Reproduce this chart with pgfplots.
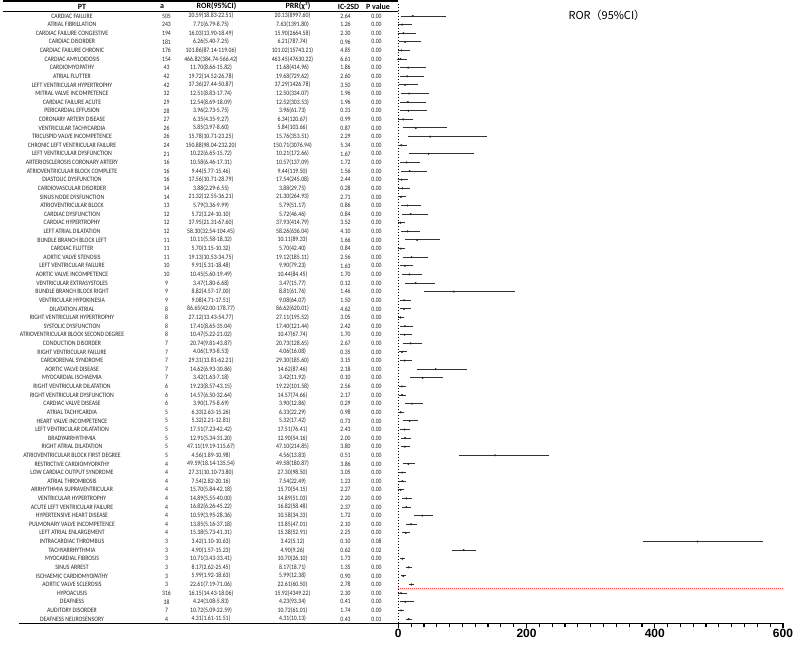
\documentclass[border=0pt]{standalone}
\usepackage{fontspec}
\setmainfont{Carlito}
\newfontfamily\cjkfont{Noto Sans CJK SC}
\newfontfamily\arialfont{Liberation Sans}
\usepackage{graphicx}
\usepackage{pgfplots}
\usepackage{pgfplotstable}
\pgfplotsset{compat=1.18}
\newcommand\rowfont{\fontsize{6.7bp}{7bp}\selectfont}
\newcommand\sq[1]{\scalebox{0.86}[1]{#1}}
\newcommand\hdfont{\bfseries\fontsize{8bp}{9bp}\selectfont}

\pgfplotstableread[col sep=comma]{
row,pt,a,ror,lo,hi,prr,chi,ic,p,prow
1,CARDIAC FAILURE,505,20.59,18.83,22.51,20.13,8997.60,2.64,0.00,67
2,ATRIAL FIBRILLATION,243,7.71,6.79,8.75,7.63,1391.80,1.26,0.00,66
3,CARDIAC FAILURE CONGESTIVE,194,16.03,13.90,18.49,15.90,2664.58,2.30,0.00,65
4,CARDIAC DISORDER,181,6.26,5.40,7.25,6.21,787.74,0.96,0.00,64
5,CARDIAC FAILURE CHRONIC,176,101.86,87.14,119.06,101.02,15743.21,4.85,0.00,63
6,CARDIAC AMYLOIDOSIS,154,466.82,384.74,566.42,463.45,47630.22,6.61,0.00,62
7,CARDIOMYOPATHY,43,11.70,8.66,15.82,11.68,414.96,1.86,0.00,61
8,ATRIAL FLUTTER,42,19.72,14.52,26.78,19.68,729.62,2.60,0.00,60
9,LEFT VENTRICULAR HYPERTROPHY,42,37.36,27.44,50.87,37.29,1426.78,3.50,0.00,59
10,MITRAL VALVE INCOMPETENCE,32,12.51,8.83,17.74,12.50,334.07,1.96,0.00,58
11,CARDIAC FAILURE ACUTE,29,12.54,8.69,18.09,12.52,303.53,1.96,0.00,57
12,PERICARDIAL EFFUSION,28,3.96,2.73,5.75,3.96,61.73,0.31,0.00,56
13,CORONARY ARTERY DISEASE,27,6.35,4.35,9.27,6.34,120.67,0.99,0.00,55
14,VENTRICULAR TACHYCARDIA,26,5.85,3.97,8.60,5.84,103.66,0.87,0.00,54
15,TRICUSPID VALVE INCOMPETENCE,26,15.78,10.71,23.25,15.76,353.51,2.29,0.00,53
16,CHRONIC LEFT VENTRICULAR FAILURE,24,150.88,98.04,232.20,150.71,3076.94,5.34,0.00,52
17,LEFT VENTRICULAR DYSFUNCTION,21,10.22,6.65,15.72,10.21,172.66,1.67,0.00,51
18,ARTERIOSCLEROSIS CORONARY ARTERY,16,10.58,6.46,17.31,10.57,137.09,1.72,0.00,50
19,ATRIOVENTRICULAR BLOCK COMPLETE,16,9.44,5.77,15.46,9.44,119.50,1.56,0.00,49
20,DIASTOLIC DYSFUNCTION,16,17.56,10.71,28.79,17.54,245.08,2.44,0.00,48
21,CARDIOVASCULAR DISORDER,14,3.88,2.29,6.55,3.88,29.75,0.28,0.00,47
22,SINUS NODE DYSFUNCTION,14,21.32,12.55,36.21,21.30,264.93,2.71,0.00,46
23,ATRIOVENTRICULAR BLOCK,13,5.79,3.36,9.99,5.79,51.17,0.86,0.00,45
24,CARDIAC DYSFUNCTION,12,5.72,3.24,10.10,5.72,46.46,0.84,0.00,44
25,CARDIAC HYPERTROPHY,12,37.95,21.31,67.60,37.93,414.79,3.52,0.00,43
26,LEFT ATRIAL DILATATION,12,58.30,32.54,104.45,58.26,636.04,4.10,0.00,42
27,BUNDLE BRANCH BLOCK LEFT,11,10.11,5.58,18.32,10.11,89.33,1.66,0.00,41
28,CARDIAC FLUTTER,11,5.70,3.15,10.32,5.70,42.40,0.84,0.00,40
29,AORTIC VALVE STENOSIS,11,19.13,10.53,34.75,19.12,185.11,2.56,0.00,39
30,LEFT VENTRICULAR FAILURE,10,9.91,5.31,18.48,9.90,79.23,1.63,0.00,38
31,AORTIC VALVE INCOMPETENCE,10,10.45,5.60,19.49,10.44,84.45,1.70,0.00,37
32,VENTRICULAR EXTRASYSTOLES,9,3.47,1.80,6.68,3.47,15.77,0.12,0.00,36
33,BUNDLE BRANCH BLOCK RIGHT,9,8.82,4.57,17.00,8.81,61.76,1.46,0.00,35
34,VENTRICULAR HYPOKINESIA,9,9.08,4.71,17.51,9.08,64.07,1.50,0.00,34
35,DILATATION ATRIAL,8,86.65,42.00,178.77,86.62,620.01,4.62,0.00,33
36,RIGHT VENTRICULAR HYPERTROPHY,8,27.12,13.43,54.77,27.11,195.52,3.05,0.00,32
37,SYSTOLIC DYSFUNCTION,8,17.41,8.65,35.04,17.40,121.44,2.42,0.00,31
38,ATRIOVENTRICULAR BLOCK SECOND DEGREE,8,10.47,5.22,21.02,10.47,67.74,1.70,0.00,30
39,CONDUCTION DISORDER,7,20.74,9.81,43.87,20.73,128.65,2.67,0.00,29
40,RIGHT VENTRICULAR FAILURE,7,4.06,1.93,8.53,4.06,16.08,0.35,0.00,28
41,CARDIORENAL SYNDROME,7,29.31,13.81,62.21,29.30,185.60,3.15,0.00,27
42,AORTIC VALVE DISEASE,7,14.62,6.93,30.86,14.62,87.46,2.18,0.00,26
43,MYOCARDIAL ISCHAEMIA,7,3.42,1.63,7.18,3.42,11.92,0.10,0.00,25
44,RIGHT VENTRICULAR DILATATION,6,19.23,8.57,43.15,19.22,101.58,2.56,0.00,24
45,RIGHT VENTRICULAR DYSFUNCTION,6,14.57,6.50,32.64,14.57,74.66,2.17,0.00,23
46,CARDIAC VALVE DISEASE,6,3.90,1.75,8.69,3.90,12.86,0.29,0.00,22
47,ATRIAL TACHYCARDIA,5,6.33,2.63,15.26,6.33,22.29,0.98,0.00,21
48,HEART VALVE INCOMPETENCE,5,5.32,2.21,12.81,5.32,17.42,0.73,0.00,20
49,LEFT VENTRICULAR DILATATION,5,17.51,7.23,42.42,17.51,76.41,2.43,0.00,19
50,BRADYARRHYTHMIA,5,12.91,5.34,31.20,12.90,54.16,2.00,0.00,18
51,RIGHT ATRIAL DILATATION,5,47.11,19.19,115.67,47.10,214.85,3.80,0.00,17
52,ATRIOVENTRICULAR BLOCK FIRST DEGREE,5,4.56,1.89,10.98,4.56,13.83,0.51,0.00,16
53,RESTRICTIVE CARDIOMYOPATHY,4,49.59,18.14,135.54,49.58,180.87,3.86,0.00,15
54,LOW CARDIAC OUTPUT SYNDROME,4,27.31,10.10,73.80,27.30,98.50,3.05,0.00,14
55,ATRIAL THROMBOSIS,4,7.54,2.82,20.16,7.54,22.49,1.23,0.00,13
56,ARRHYTHMIA SUPRAVENTRICULAR,4,15.70,5.84,42.18,15.70,54.15,2.27,0.00,12
57,VENTRICULAR HYPERTROPHY,4,14.89,5.55,40.00,14.89,51.03,2.20,0.00,11
58,ACUTE LEFT VENTRICULAR FAILURE,4,16.82,6.26,45.22,16.82,58.48,2.37,0.00,10
59,HYPERTENSIVE HEART DISEASE,4,10.59,3.95,28.36,10.58,34.33,1.72,0.00,9
60,PULMONARY VALVE INCOMPETENCE,4,13.85,5.16,37.18,13.85,47.01,2.10,0.00,8
61,LEFT ATRIAL ENLARGEMENT,4,15.38,5.73,41.31,15.38,52.91,2.25,0.00,7
62,INTRACARDIAC THROMBUS,3,3.42,1.10,10.63,3.42,5.12,0.10,0.08,6
63,TACHYARRHYTHMIA,3,4.90,1.57,15.23,4.90,9.26,0.62,0.02,5
64,MYOCARDIAL FIBROSIS,3,10.71,3.43,33.41,10.70,26.10,1.73,0.00,4
65,SINUS ARREST,3,8.17,2.62,25.45,8.17,18.71,1.35,0.00,3
66,ISCHAEMIC CARDIOMYOPATHY,3,5.99,1.92,18.63,5.99,12.38,0.90,0.00,2
67,AORTIC VALVE SCLEROSIS,3,22.61,7.19,71.06,22.61,60.50,2.78,0.00,1
68,HYPOACUSIS,316,16.15,14.43,18.06,15.92,4349.22,2.30,0.00,71
69,DEAFNESS,38,4.24,3.08,5.83,4.23,93.34,0.41,0.00,70
70,AUDITORY DISORDER,7,10.72,5.09,22.59,10.72,61.01,1.74,0.00,69
71,DEAFNESS NEUROSENSORY,4,4.31,1.61,11.51,4.31,10.13,0.43,0.01,68
}\tbl

\begin{document}
\begin{tikzpicture}
% ---------- table text (one row of the table per iteration) ----------
\foreach \i in {0,...,70} {
  \pgfmathsetmacro\yy{-(16+8.614*\i)}
  \pgfplotstablegetelem{\i}{pt}\of\tbl \let\vPT\pgfplotsretval
  \pgfplotstablegetelem{\i}{a}\of\tbl \let\vA\pgfplotsretval
  \pgfplotstablegetelem{\i}{ror}\of\tbl \let\vR\pgfplotsretval
  \pgfplotstablegetelem{\i}{lo}\of\tbl \let\vL\pgfplotsretval
  \pgfplotstablegetelem{\i}{hi}\of\tbl \let\vH\pgfplotsretval
  \pgfplotstablegetelem{\i}{prr}\of\tbl \let\vP\pgfplotsretval
  \pgfplotstablegetelem{\i}{chi}\of\tbl \let\vC\pgfplotsretval
  \pgfplotstablegetelem{\i}{ic}\of\tbl \let\vI\pgfplotsretval
  \pgfplotstablegetelem{\i}{p}\of\tbl \let\vPv\pgfplotsretval
  \begin{scope}[every node/.style={font=\rowfont, inner sep=0pt, text=black!85}]
  \node at (72bp,\yy bp) {\sq{\vPT}};
  \node at (166.5bp,\yy bp) {\sq{\vA}};
  \node at (211bp,\yy bp) {\sq{\vR(\vL-\vH)}};
  \node at (292.5bp,\yy bp) {\sq{\vP(\vC)}};
  \node at (345.5bp,\yy bp) {\sq{\vI}};
  \node at (376.5bp,\yy bp) {\sq{\vPv}};
  \end{scope}
}

% ---------- forest plot ----------
\begin{axis}[
  at={(398.3bp,0bp)}, anchor=north west, scale only axis,
  width=384.7bp, height=623.3bp,
  xmin=0, xmax=600, ymin=-0.857, ymax=71.5, y dir=reverse,
  axis x line*=bottom, axis y line=none,
  x axis line style={line width=1.5bp, -},
  xtick={0,200,400,600}, minor x tick num=9,
  tick align=outside, major tick length=5bp, minor tick length=4bp,
  tick style={line width=1.2bp, black},
  /pgf/number format/assume math mode=true,
  xticklabel style={font=\arialfont\bfseries\fontsize{12bp}{12bp}\selectfont, inner sep=1bp},
  clip=false,
]
\addplot[black, line width=1bp, dash pattern=on 1bp off 2bp] coordinates {(0,-0.4) (0,71.5)};
\addplot[red!75, line width=0.8bp, dash pattern=on 1bp off 1bp] coordinates {(0,67.45) (600,67.45)};
\addplot[only marks, mark=*, mark size=0.8bp, black!85,
  error bars/.cd, x dir=both, x explicit,
  error bar style={line width=1bp, black!80},
  error mark options={line width=1bp, mark size=1.7bp, black!80}]
  table[x=ror, y=prow,
        x error plus expr=\thisrow{hi}-\thisrow{ror},
        x error minus expr=\thisrow{ror}-\thisrow{lo}]{\tbl};
\end{axis}

% ---------- header and rules ----------
\draw[line width=1.5bp] (3bp,-1bp) -- (398bp,-1bp);
\draw[line width=0.8bp] (3bp,-11.7bp) -- (398bp,-11.7bp);
\draw[line width=1.5bp] (19bp,-623.3bp) -- (399bp,-623.3bp);
\node[font=\hdfont] at (82bp,-6.5bp) {PT};
\node[font=\hdfont] at (162bp,-6.5bp) {a};
\node[font=\hdfont] at (216.5bp,-6.5bp) {ROR(95\%CI)};
\node[font=\hdfont] at (298bp,-6.5bp) {PRR(χ²)};
\node[font=\hdfont] at (348.5bp,-6.5bp) {IC-2SD};
\node[font=\hdfont] at (378bp,-6.5bp) {P value};
\node[font=\cjkfont\fontsize{11bp}{11bp}\selectfont, anchor=west] at (565bp,-15bp) {ROR（95\%CI）};

\pgfresetboundingbox
\path[use as bounding box] (0bp,0bp) rectangle (793bp,-645bp);
\end{tikzpicture}
\end{document}
